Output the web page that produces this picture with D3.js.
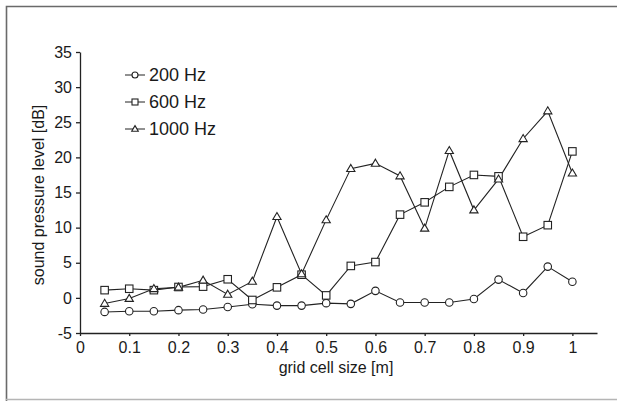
<!DOCTYPE html>
<html>
<head>
<meta charset="utf-8">
<script src="https://cdn.jsdelivr.net/npm/d3@7"></script>
<style>
  body { margin: 0; background: #fff; }
  svg { display: block; font-family: "Liberation Sans", Arial, sans-serif; }
  .axis path, .axis line { stroke: #222; stroke-width: 1.3; }
  .axis text { font-size: 16px; fill: #1a1a1a; }
</style>
</head>
<body>
<div id="chart"></div>
<script>
// grid cell size [m]
var cellSize = [0.05, 0.1, 0.15, 0.2, 0.25, 0.3, 0.35, 0.4, 0.45, 0.5,
                0.55, 0.6, 0.65, 0.7, 0.75, 0.8, 0.85, 0.9, 0.95, 1.0];
var spl200  = [-2.0, -1.9, -1.9, -1.75, -1.65, -1.3, -0.9, -1.1, -1.1, -0.75,
               -0.85, 1.0, -0.65, -0.65, -0.65, -0.15, 2.6, 0.7, 4.45, 2.3];
var spl600  = [1.1, 1.3, 1.1, 1.55, 1.6, 2.65, -0.3, 1.5, 3.3, 0.35,
               4.55, 5.1, 11.85, 13.6, 15.8, 17.5, 17.3, 8.7, 10.35, 20.85];
var spl1000 = [-0.8, -0.1, 1.3, 1.5, 2.5, 0.5, 2.35, 11.55, 3.4, 11.1,
               18.4, 19.15, 17.35, 9.9, 20.95, 12.5, 16.9, 22.65, 26.6, 17.75];
var seriesNames = ["200 Hz", "600 Hz", "1000 Hz"];
var seriesShapes = ["circle", "square", "triangle"];
var xTicks = [0, 0.1, 0.2, 0.3, 0.4, 0.5, 0.6, 0.7, 0.8, 0.9, 1];
var yTicks = [-5, 0, 5, 10, 15, 20, 25, 30, 35];

var W = 617, H = 401;
var margin = { top: 52, right: 20, bottom: 68, left: 80 };
var width = 597 - margin.left,
    height = 333 - margin.top;

var svg = d3.select("#chart").append("svg")
    .attr("width", W)
    .attr("height", H);

// frame
svg.append("path")
    .attr("d", "M6.5," + H + "V6.5H" + W)
    .attr("fill", "none")
    .attr("stroke", "#6a6a6a")
    .attr("stroke-width", 1.6);
svg.append("line")
    .attr("x1", 6).attr("x2", W)
    .attr("y1", 399.5).attr("y2", 399.5)
    .attr("stroke", "#b5b5b5")
    .attr("stroke-width", 1.5);

var g = svg.append("g")
    .attr("transform", "translate(" + margin.left + "," + margin.top + ")");

var x = d3.scaleLinear().domain([0, 1.05]).range([0, width]);
var y = d3.scaleLinear().domain([-5, 35]).range([height, 0]);

var xAxis = d3.axisBottom(x)
    .tickValues(xTicks)
    .tickSizeInner(3).tickSizeOuter(0).tickPadding(6)
    .tickFormat(function(d) { return String(d); });
var yAxis = d3.axisLeft(y)
    .tickValues(yTicks)
    .tickSizeInner(4).tickSizeOuter(0).tickPadding(4)
    .tickFormat(function(d) { return String(d); });

g.append("g")
    .attr("class", "axis xaxis")
    .attr("transform", "translate(0," + height + ")")
    .call(xAxis);

g.append("g")
    .attr("class", "axis yaxis")
    .call(yAxis);

g.selectAll(".axis .domain").attr("stroke-width", 1.5);

g.append("text")
    .attr("x", 336 - margin.left)
    .attr("y", height + 40)
    .attr("text-anchor", "middle")
    .style("font-size", "16px")
    .style("fill", "#1a1a1a")
    .text("grid cell size [m]");

g.append("text")
    .attr("transform", "translate(" + (44 - margin.left) + "," + (195 - margin.top) + ") rotate(-90)")
    .attr("text-anchor", "middle")
    .style("font-size", "16px")
    .style("fill", "#1a1a1a")
    .text("sound pressure level [dB]");

var series = [spl200, spl600, spl1000].map(function(vals, i) {
  return {
    name: seriesNames[i],
    shape: seriesShapes[i],
    values: vals.map(function(v, j) { return { x: cellSize[j], y: v }; })
  };
});

var line = d3.line()
    .x(function(d) { return x(d.x); })
    .y(function(d) { return y(d.y); });

function marker(sel, shape, s) {
  if (shape === "circle") {
    sel.append("circle").attr("r", s * 0.5);
  } else if (shape === "square") {
    sel.append("rect").attr("x", -s / 2).attr("y", -s / 2).attr("width", s).attr("height", s);
  } else {
    var h = s * 0.9;
    sel.append("path").attr("d", "M0," + (-h * 0.62) + "L" + (s * 0.55) + "," + (h * 0.42) + "L" + (-s * 0.55) + "," + (h * 0.42) + "Z");
  }
  sel.selectAll("*").attr("fill", "#fff").attr("stroke", "#222").attr("stroke-width", 1.1);
}

// draw lines first, then markers on top
series.forEach(function(s) {
  g.append("path")
      .datum(s.values)
      .attr("fill", "none")
      .attr("stroke", "#222")
      .attr("stroke-width", 1.1)
      .attr("d", line);
});
series.forEach(function(s) {
  g.append("g").selectAll("g")
      .data(s.values)
      .enter().append("g")
      .attr("transform", function(d) { return "translate(" + x(d.x) + "," + y(d.y) + ")"; })
      .each(function() { marker(d3.select(this), s.shape, 7.5); });
});

// legend
var legend = g.append("g")
    .attr("transform", "translate(" + (125 - margin.left) + "," + (75 - margin.top) + ")");
series.forEach(function(s, i) {
  var row = legend.append("g").attr("transform", "translate(0," + (i * 27) + ")");
  row.append("line")
      .attr("x1", 0).attr("x2", 20)
      .attr("stroke", "#222").attr("stroke-width", 1);
  var m = row.append("g").attr("transform", "translate(10,0)");
  marker(m, s.shape, 6);
  row.append("text")
      .attr("x", 24)
      .attr("y", 6)
      .style("font-size", "18px")
      .style("fill", "#1a1a1a")
      .text(s.name);
});
</script>
</body>
</html>
